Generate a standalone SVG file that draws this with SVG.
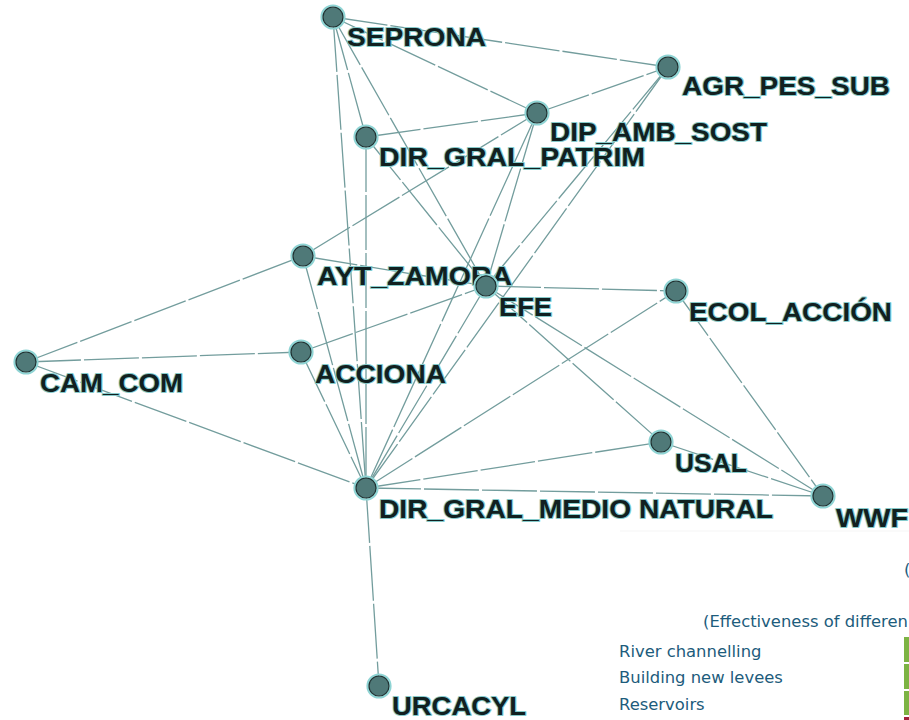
<svg xmlns="http://www.w3.org/2000/svg" width="909" height="720" viewBox="0 0 909 720">
<style>
.e{stroke:#739d9d;stroke-width:1.3;fill:none;stroke-dasharray:55 3}
.halo{fill:none;stroke:#8fd4d4;stroke-width:2.2}
.dot{fill:#4f7978;stroke:#1d3131;stroke-width:1.2}
.lbl{font-family:"Liberation Sans",Arial,sans-serif;font-weight:bold;font-size:25px;fill:#112020;stroke:#86caca;stroke-width:2;paint-order:stroke;stroke-linejoin:round}
.leg{font-family:"DejaVu Sans",Verdana,sans-serif;font-size:16.4px;fill:#1d5c7c}
</style>
<rect width="909" height="720" fill="#ffffff"/>
<line x1="620" y1="531" x2="909" y2="531" stroke="#f5f5f5" stroke-width="1"/>
<g id="connectors">
<line class="e" x1="333" y1="17" x2="668" y2="67"/>
<line class="e" x1="333" y1="17" x2="537" y2="113"/>
<line class="e" x1="333" y1="17" x2="366" y2="137"/>
<line class="e" x1="333" y1="17" x2="366" y2="488"/>
<line class="e" x1="333" y1="17" x2="486" y2="286"/>
<line class="e" x1="537" y1="113" x2="668" y2="67"/>
<line class="e" x1="366" y1="137" x2="537" y2="113"/>
<line class="e" x1="366" y1="137" x2="366" y2="488"/>
<line class="e" x1="366" y1="137" x2="486" y2="286"/>
<line class="e" x1="303" y1="256" x2="537" y2="113"/>
<line class="e" x1="537" y1="113" x2="486" y2="286"/>
<line class="e" x1="537" y1="113" x2="366" y2="488"/>
<line class="e" x1="668" y1="67" x2="486" y2="286"/>
<line class="e" x1="668" y1="67" x2="366" y2="488"/>
<line class="e" x1="26" y1="362" x2="303" y2="256"/>
<line class="e" x1="26" y1="362" x2="301" y2="352"/>
<line class="e" x1="26" y1="362" x2="366" y2="488"/>
<line class="e" x1="303" y1="256" x2="486" y2="286"/>
<line class="e" x1="303" y1="256" x2="366" y2="488"/>
<line class="e" x1="301" y1="352" x2="486" y2="286"/>
<line class="e" x1="301" y1="352" x2="366" y2="488"/>
<line class="e" x1="486" y1="286" x2="366" y2="488"/>
<line class="e" x1="486" y1="286" x2="676" y2="291"/>
<line class="e" x1="486" y1="286" x2="661" y2="442"/>
<line class="e" x1="486" y1="286" x2="823" y2="496"/>
<line class="e" x1="366" y1="488" x2="676" y2="291"/>
<line class="e" x1="366" y1="488" x2="661" y2="442"/>
<line class="e" x1="366" y1="488" x2="823" y2="496"/>
<line class="e" x1="366" y1="488" x2="379" y2="686"/>
<line class="e" x1="676" y1="291" x2="823" y2="496"/>
<line class="e" x1="661" y1="442" x2="823" y2="496"/>
</g>
<g id="SEPRONA"><circle class="halo" cx="333" cy="17" r="11.5"/><circle class="dot" cx="333" cy="17" r="10"/><text class="lbl" x="347" y="46" textLength="139" lengthAdjust="spacingAndGlyphs">SEPRONA</text></g>
<g id="AGR_PES_SUB"><circle class="halo" cx="668" cy="67" r="11.5"/><circle class="dot" cx="668" cy="67" r="10"/><text class="lbl" x="682" y="95" textLength="208" lengthAdjust="spacingAndGlyphs">AGR_PES_SUB</text></g>
<g id="DIP_AMB_SOST"><circle class="halo" cx="537" cy="113" r="11.5"/><circle class="dot" cx="537" cy="113" r="10"/><text class="lbl" x="550" y="141" textLength="217" lengthAdjust="spacingAndGlyphs">DIP_AMB_SOST</text></g>
<g id="DIR_GRAL_PATRIM"><circle class="halo" cx="366" cy="137" r="11.5"/><circle class="dot" cx="366" cy="137" r="10"/><text class="lbl" x="379" y="166" textLength="266" lengthAdjust="spacingAndGlyphs">DIR_GRAL_PATRIM</text></g>
<g id="AYT_ZAMORA"><circle class="halo" cx="303" cy="256" r="11.5"/><circle class="dot" cx="303" cy="256" r="10"/><text class="lbl" x="317" y="285" textLength="195" lengthAdjust="spacingAndGlyphs">AYT_ZAMORA</text></g>
<g id="EFE"><circle class="halo" cx="486" cy="286" r="11.5"/><circle class="dot" cx="486" cy="286" r="10"/><text class="lbl" x="499" y="316" textLength="53" lengthAdjust="spacingAndGlyphs">EFE</text></g>
<g id="ECOL_ACCION"><circle class="halo" cx="676" cy="291" r="11.5"/><circle class="dot" cx="676" cy="291" r="10"/><text class="lbl" x="689" y="321" textLength="203" lengthAdjust="spacingAndGlyphs">ECOL_ACCIÓN</text></g>
<g id="CAM_COM"><circle class="halo" cx="26" cy="362" r="11.5"/><circle class="dot" cx="26" cy="362" r="10"/><text class="lbl" x="40" y="392" textLength="143" lengthAdjust="spacingAndGlyphs">CAM_COM</text></g>
<g id="ACCIONA"><circle class="halo" cx="301" cy="352" r="11.5"/><circle class="dot" cx="301" cy="352" r="10"/><text class="lbl" x="315" y="383" textLength="131" lengthAdjust="spacingAndGlyphs">ACCIONA</text></g>
<g id="USAL"><circle class="halo" cx="661" cy="442" r="11.5"/><circle class="dot" cx="661" cy="442" r="10"/><text class="lbl" x="675" y="472" textLength="72" lengthAdjust="spacingAndGlyphs">USAL</text></g>
<g id="DIR_GRAL_MEDIO_NATURAL"><circle class="halo" cx="366" cy="488" r="11.5"/><circle class="dot" cx="366" cy="488" r="10"/><text class="lbl" x="379" y="518" textLength="394" lengthAdjust="spacingAndGlyphs">DIR_GRAL_MEDIO NATURAL</text></g>
<g id="WWF"><circle class="halo" cx="823" cy="496" r="11.5"/><circle class="dot" cx="823" cy="496" r="10"/><text class="lbl" x="836" y="527" textLength="72" lengthAdjust="spacingAndGlyphs">WWF</text></g>
<g id="URCACYL"><circle class="halo" cx="379" cy="686" r="11.5"/><circle class="dot" cx="379" cy="686" r="10"/><text class="lbl" x="392" y="715" textLength="134" lengthAdjust="spacingAndGlyphs">URCACYL</text></g>
<g id="legend">
<text class="leg" x="904" y="575">(</text>
<text class="leg" x="703" y="627">(Effectiveness of differen</text>
<text class="leg" x="619" y="657">River channelling</text>
<text class="leg" x="619" y="683">Building new levees</text>
<text class="leg" x="619" y="710">Reservoirs</text>
<rect x="904" y="637" width="5" height="25" fill="#7db343"/>
<rect x="904" y="664" width="5" height="25" fill="#7db343"/>
<rect x="904" y="691" width="5" height="24" fill="#7db343"/>
<rect x="904" y="717" width="5" height="3" fill="#a3203c"/>
</g>
</svg>
